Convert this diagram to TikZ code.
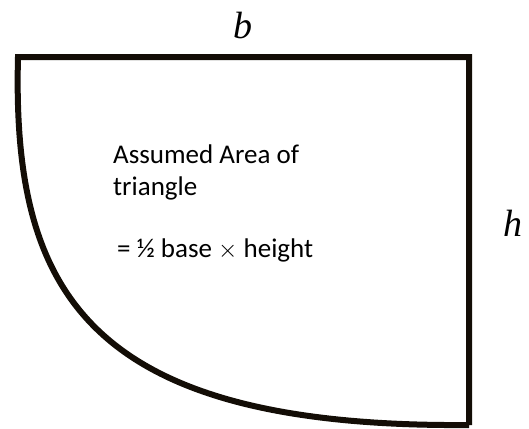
\documentclass[tikz,border=0pt]{standalone}
\usepackage{fontspec}
\setmainfont{Carlito}
\newfontfamily\labelfont{Liberation Serif}
\tikzset{
  shapeline/.style={line width=6pt, color=black!90!brown, line join=miter},
  bodytext/.style={font=\fontsize{27}{32}\selectfont, inner sep=0pt, anchor=base west},
  dimlabel/.style={font=\labelfont\itshape\fontsize{38}{40}\selectfont, inner sep=0pt, anchor=base},
}
\begin{document}
\begin{tikzpicture}[x=1pt,y=-1pt]
\useasboundingbox (0,0) rectangle (529,428);
\coordinate (tl) at (18,57);
\coordinate (tr) at (469,57);
\coordinate (br) at (469,425);
\draw[shapeline] (br) -- (tr) -- (tl) .. controls (12,290) and (85,428) .. (br);
\node[dimlabel] (b) at (243,38) {b};
\node[dimlabel] (h) at (513,236) {h};
\node[bodytext] (t1) at (113,163) {Assumed Area of};
\node[bodytext] (t2) at (113,195) {triangle};
\node[bodytext] (t3) at (117,257) {= ½ base $\times$ height};
\end{tikzpicture}
\end{document}
